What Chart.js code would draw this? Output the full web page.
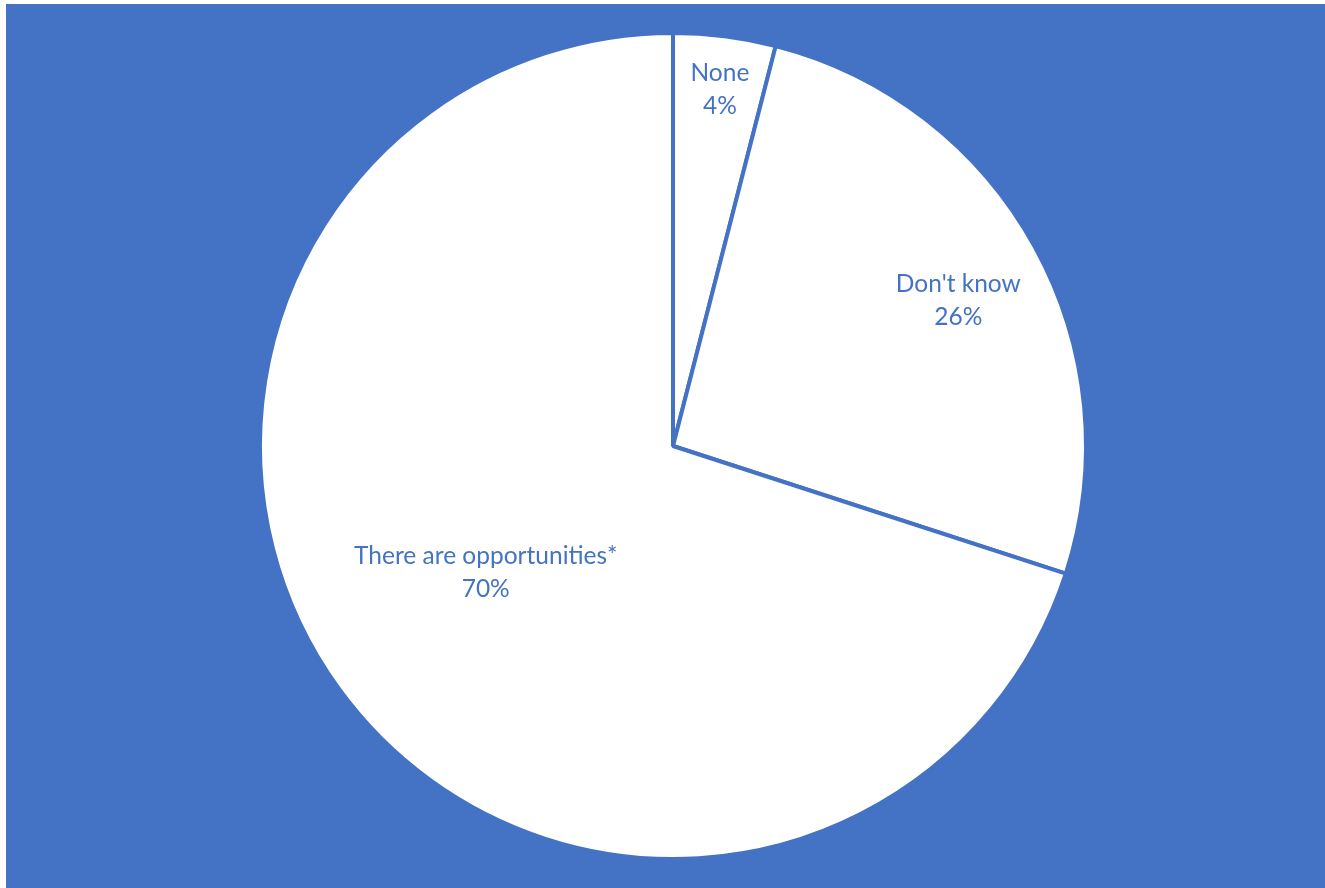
<!DOCTYPE html>
<html>
<head>
<meta charset="utf-8">
<script src="https://cdn.jsdelivr.net/npm/chart.js@4/dist/chart.umd.min.js"></script>
<style>
  html, body { margin: 0; padding: 0; background: #ffffff; }
  #wrap { position: absolute; left: 6px; top: 4px; width: 1319px; height: 884px; background: #4472C4; }
  canvas { display: block; }
</style>
</head>
<body>
<div id="wrap"><canvas id="chart" width="1319" height="884"></canvas></div>
<script>
// Survey answers and their shares (percent)
const categories = ['None', "Don't know", 'There are opportunities*'];
const shares = [4, 26, 70];

const BLUE = '#4472C4';

// Draws each slice's name and percentage inside the slice
const sliceLabels = {
  id: 'sliceLabels',
  afterDatasetsDraw(chart, args, opts) {
    const ctx = chart.ctx;
    const meta = chart.getDatasetMeta(0);
    ctx.save();
    ctx.fillStyle = opts.color;
    ctx.font = opts.font;
    ctx.textAlign = 'center';
    ctx.textBaseline = 'alphabetic';
    meta.data.forEach((arc, i) => {
      const p = arc.getProps(['x', 'y', 'startAngle', 'endAngle', 'outerRadius'], true);
      const mid = (p.startAngle + p.endAngle) / 2 + opts.angleNudge[i] * Math.PI / 180;
      const r = p.outerRadius * opts.radial[i];
      const cx = p.x + Math.cos(mid) * r;
      const cy = p.y + Math.sin(mid) * r;
      const lines = [chart.data.labels[i], shares[i] + '%'];
      const lh = opts.lineHeight;
      lines.forEach((t, k) => {
        ctx.fillText(t, cx, cy + (k - (lines.length - 1) / 2) * lh + opts.baselineShift);
      });
    });
    ctx.restore();
  }
};

new Chart(document.getElementById('chart'), {
  type: 'pie',
  data: {
    labels: categories,
    datasets: [{
      data: shares,
      backgroundColor: '#ffffff',
      borderColor: BLUE,
      borderWidth: 4,
      hoverOffset: 0
    }]
  },
  options: {
    responsive: false,
    animation: false,
    events: [],
    layout: { padding: { top: 27, bottom: 27, left: 15, right: 0 } },
    plugins: {
      legend: { display: false },
      tooltip: { enabled: false },
      sliceLabels: {
        color: BLUE,
        font: '24.5px Lato, "Open Sans", sans-serif',
        lineHeight: 33,
        baselineShift: 8,
        radial: [0.87, 0.776, 0.547],
        angleNudge: [0.3, 1.7, 2]
      }
    }
  },
  plugins: [sliceLabels]
});
</script>
</body>
</html>
